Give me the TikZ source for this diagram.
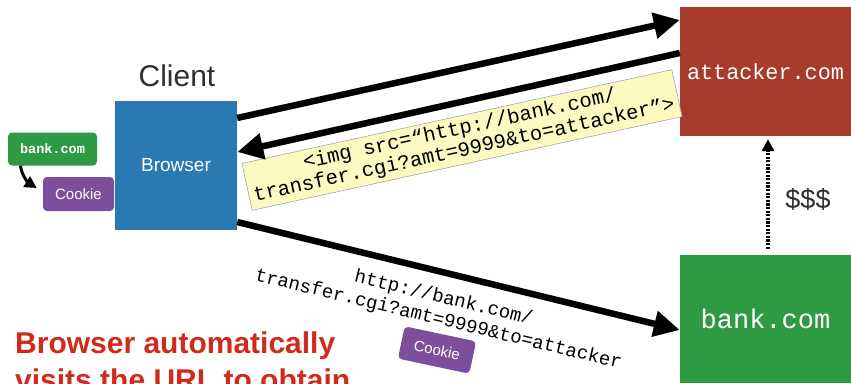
\documentclass[tikz,border=0pt]{standalone}
\usepackage{fontspec}
\setmainfont{Liberation Sans}
\newfontfamily\monofont{Liberation Mono}
\usetikzlibrary{arrows.meta,calc}
\definecolor{attred}{HTML}{A83C2C}
\definecolor{bankgreen}{HTML}{2F9A44}
\definecolor{browserblue}{HTML}{2A79B3}
\definecolor{cookiepurple}{HTML}{7C4E9C}
\definecolor{noteyellow}{HTML}{FDF9C0}
\definecolor{alertred}{HTML}{D02A1C}
\definecolor{labelgray}{HTML}{2E2E33}
\begin{document}
\begin{tikzpicture}[x=1pt,y=-1pt,
  server/.style={fill=#1, draw=none, inner sep=0pt, text=white},
  smallbox/.style={fill=#1, draw=none, rounded corners=4pt, inner sep=0pt, text=white},
  bigarrow/.style={line width=6.5pt, -{Triangle[length=26pt,width=25pt]}},
  smallarrow/.style={line width=3pt, -{Triangle[length=12pt,width=12pt]}},
  note/.style={fill=noteyellow, draw=gray!70, line width=0.6pt, inner sep=0pt, align=center, text=black},
  url/.style={align=center, text=black, inner sep=0pt}
]
\useasboundingbox (0,0) rectangle (851,383);
\clip (0,0) rectangle (851,383);

% servers
\node[server=attred, minimum width=171pt, minimum height=129pt,
      font=\fontsize{21.8}{24}\monofont] (attacker) at (765.5,71.5) {attacker.com};
\node[server=bankgreen, minimum width=171pt, minimum height=128pt,
      font=\fontsize{27}{30}\monofont] (bank) at (765.5,319) {bank.com};

% client
\node[font=\fontsize{30}{32}\selectfont, text=labelgray] (client) at (177,76) {Client};
\node[server=browserblue, minimum width=122pt, minimum height=129pt,
      font=\fontsize{19}{22}\selectfont] (browser) at (176,165.5) {Browser};

% cookie jar
\node[smallbox=bankgreen, minimum width=89pt, minimum height=33pt,
      font=\fontsize{13.5}{15}\monofont\bfseries] (bankS) at (52.5,149) {bank.com};
\node[smallbox=cookiepurple, minimum width=71pt, minimum height=34pt,
      font=\fontsize{15}{17}\selectfont] (cookieS) at (78.5,194) {Cookie};
\draw[smallarrow] ([xshift=-32pt]bankS.south)
  .. controls +(1,10) and +(-8,-5) .. ([xshift=-6pt,yshift=6pt]cookieS.west);

% note
\node[note, rotate=12.3, minimum width=440pt, minimum height=48pt,
      font=\fontsize{20.5}{21.5}\monofont] (img) at (462,140)
  {<img src=“http://bank.com/\\transfer.cgi?amt=9999\&to=attacker”>};

% arrows
\draw[bigarrow] ([yshift=47.5pt]browser.east) -- ([yshift=51.5pt]attacker.west);
\draw[bigarrow] ([yshift=18.5pt]attacker.west) -- ([yshift=13.5pt]browser.east);
\draw[bigarrow] ([yshift=-56.5pt]browser.east) -- ([yshift=-11pt]bank.west);

% request label
\node[url, rotate=-13.5, font=\fontsize{19}{22}\monofont] (req) at (441,309)
  {http://bank.com/\\transfer.cgi?amt=9999\&to=attacker};
\node[smallbox=cookiepurple, rotate=-12, minimum width=73pt, minimum height=33pt,
      font=\fontsize{15}{17}\selectfont] (cookieR) at (437,350) {Cookie};

% money
\draw[line width=3.6pt, dash pattern=on 2.2pt off 1.4pt, -{Triangle[length=12pt,width=12pt]},
      shorten <=6pt, shorten >=3pt]
  ([xshift=2.5pt]bank.north) -- ([xshift=2.5pt]attacker.south);
\node[font=\fontsize{27}{30}\selectfont, text=labelgray] (money) at (808,199) {\$\$\$};

% caption
\node[anchor=base west, align=left, inner sep=0pt, text=alertred,
      font=\fontsize{30}{37}\selectfont\bfseries] (caption) at (15,390)
  {Browser automatically\\visits the URL to obtain};
\end{tikzpicture}
\end{document}
